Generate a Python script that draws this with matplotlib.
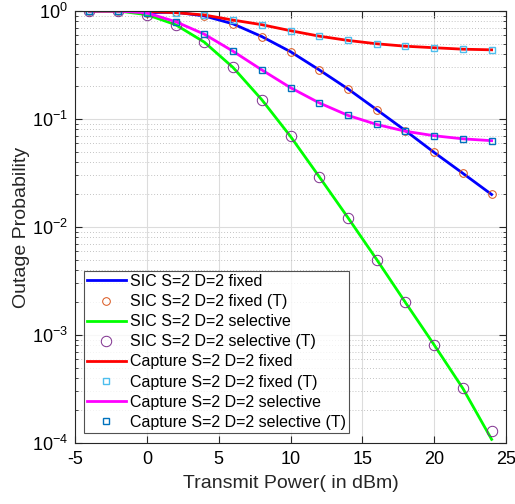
import matplotlib
matplotlib.use("Agg")
import matplotlib.pyplot as plt
from matplotlib.ticker import LogLocator, NullFormatter, FixedLocator

plt.rcParams['font.family'] = ['Liberation Sans', 'DejaVu Sans']
plt.rcParams['mathtext.fontset'] = 'custom'
plt.rcParams['mathtext.rm'] = 'Liberation Sans'
plt.rcParams['mathtext.it'] = 'Liberation Sans'
plt.rcParams['axes.unicode_minus'] = False

power = [-4, -2, 0, 2, 4, 6, 8, 10, 12, 14, 16, 18, 20, 22, 24]

sic_fixed = [1.0, 1.0, 0.966, 0.975, 0.90, 0.76, 0.58, 0.42, 0.285, 0.19, 0.122, 0.078, 0.049, 0.0314, 0.020]
sic_fixed_T = [1.0, 1.0, 0.966, 0.975, 0.90, 0.76, 0.58, 0.42, 0.285, 0.19, 0.122, 0.078, 0.049, 0.0314, 0.020]
sic_sel = [1.0, 1.0, 0.925, 0.747, 0.515, 0.30, 0.151, 0.069, 0.0292, 0.0122, 0.0050, 0.0020, 8.1e-4, 3.2e-4, 1.08e-4]
sic_sel_T = [1.0, 1.0, 0.925, 0.747, 0.515, 0.30, 0.151, 0.069, 0.0292, 0.0122, 0.0050, 0.0020, 8.1e-4, 3.2e-4, 1.28e-4]
cap_fixed = [1.0, 1.0, 0.99, 0.965, 0.918, 0.824, 0.747, 0.657, 0.585, 0.534, 0.497, 0.472, 0.457, 0.443, 0.437]
cap_fixed_T = [1.0, 1.0, 0.99, 0.965, 0.918, 0.824, 0.747, 0.657, 0.585, 0.534, 0.497, 0.472, 0.457, 0.443, 0.437]
cap_sel = [1.0, 1.0, 0.96, 0.797, 0.61, 0.424, 0.285, 0.195, 0.141, 0.108, 0.089, 0.077, 0.070, 0.0655, 0.063]
cap_sel_T = [1.0, 1.0, 0.96, 0.797, 0.61, 0.424, 0.285, 0.195, 0.141, 0.108, 0.089, 0.077, 0.070, 0.0655, 0.063]

labels = ['SIC S=2 D=2 fixed', 'SIC S=2 D=2 fixed (T)',
          'SIC S=2 D=2 selective', 'SIC S=2 D=2 selective (T)',
          'Capture S=2 D=2 fixed', 'Capture S=2 D=2 fixed (T)',
          'Capture S=2 D=2 selective', 'Capture S=2 D=2 selective (T)']

fig = plt.figure(figsize=(5.15, 5.04), dpi=100)
ax = fig.add_axes([75/515, 61/504, 431/515, 432/504])

lw = 2.0
ax.plot(power, sic_fixed, color=(0, 0, 1), lw=lw, label=labels[0])
ax.plot(power, sic_fixed_T, ls='none', marker='o', ms=5.5, mfc='none', mec='#D95319', mew=0.7, label=labels[1])
ax.plot(power, sic_sel, color=(0, 1, 0), lw=lw, label=labels[2])
ax.plot(power, sic_sel_T, ls='none', marker='o', ms=7.5, mfc='none', mec='#7E2F8E', mew=0.7, label=labels[3])
ax.plot(power, cap_fixed, color=(1, 0, 0), lw=lw, label=labels[4])
ax.plot(power, cap_fixed_T, ls='none', marker='s', ms=4.5, mfc='none', mec='#4DBEEE', mew=1.0, label=labels[5])
ax.plot(power, cap_sel, color=(1, 0, 1), lw=lw, label=labels[6])
ax.plot(power, cap_sel_T, ls='none', marker='s', ms=4.5, mfc='none', mec='#0072BD', mew=1.0, label=labels[7])

ax.set_yscale('log')
ax.set_xlim(-5, 25)
ax.set_ylim(1e-4, 1)
ax.xaxis.set_major_locator(FixedLocator([-5, 0, 5, 10, 15, 20, 25]))
ax.yaxis.set_major_locator(LogLocator(base=10, numticks=10))
ax.yaxis.set_minor_locator(LogLocator(base=10, subs=range(2, 10), numticks=10))
ax.yaxis.set_minor_formatter(NullFormatter())

ax.grid(True, which='major', color='#dcdcdc', lw=0.8, ls='-')
ax.grid(True, which='minor', axis='y', color='#b0b0b0', lw=0.6, ls=(0, (1, 2.5)))
ax.set_axisbelow(True)

ax.tick_params(which='both', direction='in', top=True, right=True, labelsize=13, color='#262626')
ax.tick_params(axis='x', pad=6)
ax.tick_params(axis='y', pad=5)
ax.tick_params(which='major', length=5)
ax.tick_params(which='minor', length=2.5)
for s in ax.spines.values():
    s.set_color('#262626')
    s.set_linewidth(0.8)

ax.set_xlabel('Transmit Power( in dBm)', fontsize=14, color='#262626', labelpad=5)
ax.set_ylabel('Outage Probability', fontsize=14, color='#262626', labelpad=1.5)

leg = ax.legend(loc='lower left', bbox_to_anchor=(9/431, 10/432), fontsize=11.5,
                frameon=True, fancybox=False, edgecolor='#262626', handlelength=2.4,
                handletextpad=0.25, borderpad=0.2, labelspacing=0.32, borderaxespad=0.0)
leg.get_frame().set_linewidth(0.8)

fig.savefig('out.png', dpi=100)
